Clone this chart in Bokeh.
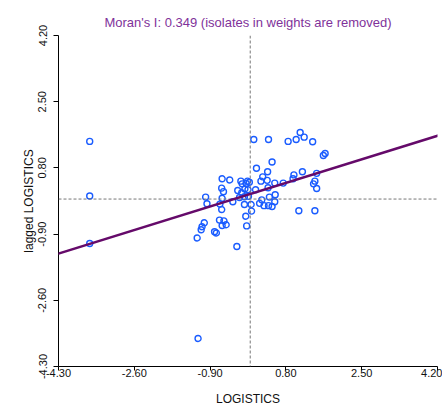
from bokeh.plotting import figure
from bokeh.models import FixedTicker, Span, Slope, PrintfTickFormatter
from bokeh.embed import file_html
from bokeh.resources import INLINE

# ---- data ----
title_text = "Moran's I: 0.349 (isolates in weights are removed)"
x_label = "LOGISTICS"
y_label = "lagged LOGISTICS"
tick_values = [-4.30, -2.60, -0.90, 0.80, 2.50, 4.20]

x_vals = [-3.60, -3.60, -3.60, -1.17,
          0.08, 0.41, 0.85, 1.03, 1.12, 1.21, 1.40, 1.64, 1.68,
          0.49, 0.14, 0.39, 0.28, 0.24, 0.38, 0.55, 0.74, 0.98, 0.96,
          1.17, 1.49, 1.45, 1.42, 1.49,
          -0.63, -0.46, -0.21, -0.06, -0.02, -0.09, -0.18,
          -0.64, -0.60, -0.28, -0.19, -0.05, 0.12, -0.13, -0.04, -0.12,
          -1.00, -0.97, -0.63, -0.68, -0.39, -0.24, -0.13, 0.02, 0.03,
          0.26, 0.21, 0.31, 0.41, 0.49, 0.43, 0.56, 0.55, 0.40,
          1.09, 1.45,
          -0.64, -0.69, -0.59, -0.54, -0.63, -1.03, -1.08, -1.10,
          -0.80, -0.76, -1.19, -0.10, -0.08, -0.30]
y_vals = [1.48, 0.08, -1.14, -3.58,
          1.53, 1.53, 1.48, 1.53, 1.71, 1.59, 1.47, 1.12, 1.17,
          0.95, 0.79, 0.70, 0.57, 0.46, 0.48, 0.41, 0.41, 0.62, 0.52,
          0.70, 0.66, 0.46, 0.39, 0.27,
          0.52, 0.49, 0.46, 0.46, 0.43, 0.40, 0.39,
          0.28, 0.19, 0.22, 0.16, 0.24, 0.24, 0.06, 0.07, 0.26,
          0.05, -0.12, 0.02, -0.13, -0.07, 0.04, -0.14, -0.14, -0.31,
          -0.02, -0.11, -0.17, -0.17, -0.19, 0.05, 0.11, -0.07, 0.29,
          -0.30, -0.30,
          -0.27, -0.54, -0.56, -0.66, -0.68, -0.61, -0.71, -0.79,
          -0.84, -0.87, -1.00, -0.44, -0.69, -1.22]

reg_slope = 0.356
reg_intercept = 0.13

FONT = "Liberation Sans"

# ---- figure ----
p = figure(width=442, height=408, output_backend="svg",
           toolbar_location=None,
           x_range=(-4.3, 4.2), y_range=(-4.3, 4.2),
           min_border_left=58, min_border_right=5, min_border_top=35,
           min_border_bottom=42)
p.outline_line_color = None
p.grid.grid_line_color = None
p.background_fill_color = "white"
p.border_fill_color = "white"

p.title.text = title_text
p.title.align = "center"
p.title.text_font = FONT
p.title.text_font_size = "13px"
p.title.text_font_style = "normal"
p.title.text_color = "#80329a"
p.title.standoff = 12

for ax in (p.xaxis[0], p.yaxis[0]):
    ax.ticker = FixedTicker(ticks=tick_values)
    ax.formatter = PrintfTickFormatter(format="%.2f")
    ax.axis_line_color = "#000000"
    ax.major_tick_line_color = "#000000"
    ax.minor_tick_line_color = None
    ax.major_tick_in = 0
    ax.major_label_text_font = FONT
    ax.major_label_text_font_size = "11px"
    ax.major_label_text_color = "#111111"
    ax.axis_label_text_font = FONT
    ax.axis_label_text_font_size = "12px"
    ax.axis_label_text_font_style = "normal"
    ax.axis_label_text_color = "#111111"

p.xaxis.axis_label = x_label
p.xaxis.major_tick_out = 4
p.xaxis.major_label_standoff = -2
p.xaxis.axis_label_standoff = 12

p.yaxis.axis_label = y_label
p.yaxis.major_tick_out = 5
p.yaxis.major_label_orientation = "vertical"
p.yaxis.major_label_standoff = 7
p.yaxis.axis_label_standoff = 0

# reference dashed lines at the means
p.add_layout(Span(location=0, dimension="height", line_color="#777777",
                  line_dash="3 2", line_width=1))
p.add_layout(Span(location=0, dimension="width", line_color="#777777",
                  line_dash="3 2", line_width=1))

# points
p.scatter(x_vals, y_vals, size=6, marker="circle", fill_color=None,
          line_color="#1a5cff", line_width=1.4)

# regression line
p.add_layout(Slope(gradient=reg_slope, y_intercept=reg_intercept,
                   line_color="#650a6a", line_width=2.6))

open("out.html", "w").write(file_html(p, INLINE))
